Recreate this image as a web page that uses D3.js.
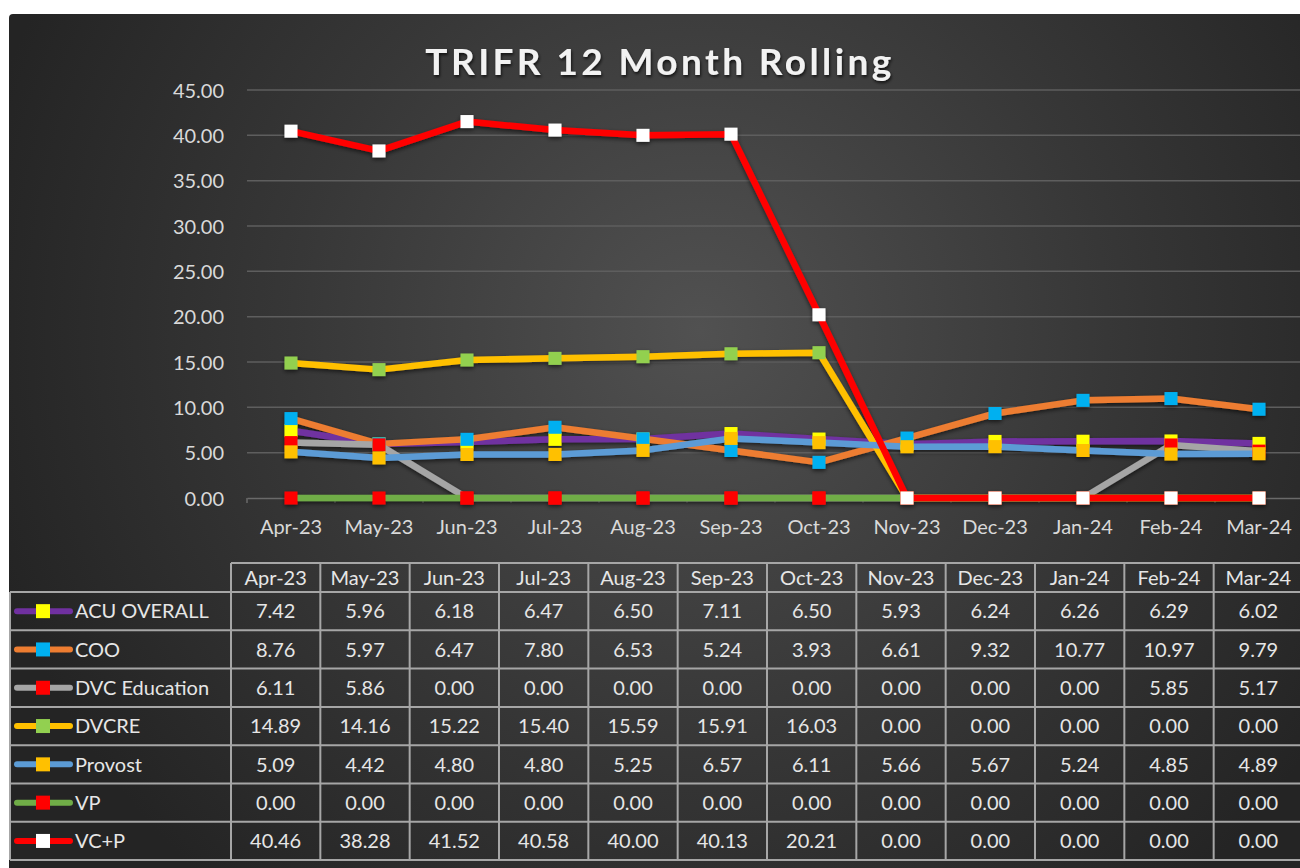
<!DOCTYPE html>
<html>
<head>
<meta charset="utf-8">
<script src="https://cdn.jsdelivr.net/npm/d3@7"></script>
<style>
  body { margin: 0; background: #fff; }
  svg { display: block; font-family: Lato, "Noto Sans", sans-serif; }
</style>
</head>
<body>
<div id="chart"></div>
<script>
// chart data
var months = ["Apr-23","May-23","Jun-23","Jul-23","Aug-23","Sep-23","Oct-23","Nov-23","Dec-23","Jan-24","Feb-24","Mar-24"];
var seriesNames = ["ACU OVERALL","COO","DVC Education","DVCRE","Provost","VP","VC+P"];
var acuOverall   = [7.42, 5.96, 6.18, 6.47, 6.50, 7.11, 6.50, 5.93, 6.24, 6.26, 6.29, 6.02];
var coo          = [8.76, 5.97, 6.47, 7.80, 6.53, 5.24, 3.93, 6.61, 9.32, 10.77, 10.97, 9.79];
var dvcEducation = [6.11, 5.86, 0.00, 0.00, 0.00, 0.00, 0.00, 0.00, 0.00, 0.00, 5.85, 5.17];
var dvcre        = [14.89, 14.16, 15.22, 15.40, 15.59, 15.91, 16.03, 0.00, 0.00, 0.00, 0.00, 0.00];
var provost      = [5.09, 4.42, 4.80, 4.80, 5.25, 6.57, 6.11, 5.66, 5.67, 5.24, 4.85, 4.89];
var vp           = [0.00, 0.00, 0.00, 0.00, 0.00, 0.00, 0.00, 0.00, 0.00, 0.00, 0.00, 0.00];
var vcp          = [40.46, 38.28, 41.52, 40.58, 40.00, 40.13, 20.21, 0.00, 0.00, 0.00, 0.00, 0.00];
var yTicks = [0, 5, 10, 15, 20, 25, 30, 35, 40, 45];

var lineColors   = ["#7030a0","#ed7d31","#a5a5a5","#ffc000","#5b9bd5","#70ad47","#ff0000"];
var markerColors = ["#ffff00","#00b0f0","#ff0000","#92d050","#ffc000","#ff0000","#ffffff"];

var series = [acuOverall, coo, dvcEducation, dvcre, provost, vp, vcp].map(function(vals, i) {
  return { name: seriesNames[i], values: vals, line: lineColors[i], marker: markerColors[i] };
});

var width = 1300, height = 868;

var svg = d3.select("#chart").append("svg")
    .attr("width", width)
    .attr("height", height);

var defs = svg.append("defs");
var bg = defs.append("radialGradient")
    .attr("id", "bg")
    .attr("gradientUnits", "userSpaceOnUse")
    .attr("cx", 700).attr("cy", 330).attr("r", 740);
bg.append("stop").attr("offset", "0%").attr("stop-color", "#515151");
bg.append("stop").attr("offset", "55%").attr("stop-color", "#373737");
bg.append("stop").attr("offset", "100%").attr("stop-color", "#242424");

var shadow = defs.append("filter").attr("id", "shadow")
    .attr("x", "-20%").attr("y", "-20%").attr("width", "140%").attr("height", "160%");
shadow.append("feDropShadow")
    .attr("dx", 0).attr("dy", 2).attr("stdDeviation", 2)
    .attr("flood-color", "#000").attr("flood-opacity", 0.6);

var tshadow = defs.append("filter").attr("id", "tshadow");
tshadow.append("feDropShadow")
    .attr("dx", 1).attr("dy", 2).attr("stdDeviation", 1.5)
    .attr("flood-color", "#000").attr("flood-opacity", 0.7);

// card
svg.append("rect")
    .attr("x", 9).attr("y", 14)
    .attr("width", width).attr("height", height)
    .attr("rx", 4)
    .attr("fill", "url(#bg)");

// title
svg.append("text")
    .attr("x", 660).attr("y", 75)
    .attr("text-anchor", "middle")
    .attr("fill", "#f2f2f2")
    .attr("font-size", 37)
    .attr("font-weight", "bold")
    .attr("letter-spacing", 3.4)
    .attr("filter", "url(#tshadow)")
    .text("TRIFR 12 Month Rolling");

var x = d3.scaleBand().domain(months).range([247, 1303]);
var y = d3.scaleLinear().domain([0, 45]).range([498, 90]);
var cx = function(m) { return x(m) + x.bandwidth() / 2; };

// gridlines
svg.append("g").selectAll("line")
  .data(yTicks.slice(1))
  .enter().append("line")
    .attr("x1", 247).attr("x2", width)
    .attr("y1", function(d) { return y(d); })
    .attr("y2", function(d) { return y(d); })
    .attr("stroke", "#5e5e5e")
    .attr("stroke-width", 1.5);

// y axis labels
var yAxis = d3.axisLeft(y).tickValues(yTicks).tickFormat(d3.format(".2f")).tickSize(0).tickPadding(0);
var yg = svg.append("g").attr("transform", "translate(224,0)").call(yAxis);
yg.select(".domain").remove();
yg.selectAll("text").attr("fill", "#d9d9d9").attr("font-size", 20)
    .attr("font-family", "Lato, 'Noto Sans', sans-serif").attr("dy", "0.35em");

// x axis
var xAxis = d3.axisBottom(x).tickSize(0).tickPadding(0);
var xg = svg.append("g").attr("transform", "translate(0," + y(0) + ")").call(xAxis);
xg.select(".domain").attr("stroke", "#6a6a6a").attr("stroke-width", 1.5);
xg.selectAll("text").attr("fill", "#d9d9d9").attr("font-size", 20)
    .attr("font-family", "Lato, 'Noto Sans', sans-serif").attr("y", 22);
xg.append("g").selectAll("line")
  .data(months.concat([null]))
  .enter().append("line")
    .attr("x1", function(d, i) { return 247 + i * x.bandwidth(); })
    .attr("x2", function(d, i) { return 247 + i * x.bandwidth(); })
    .attr("y1", 0).attr("y2", 5)
    .attr("stroke", "#6a6a6a").attr("stroke-width", 1.5);

// lines
var line = d3.line()
    .x(function(d, i) { return cx(months[i]); })
    .y(function(d) { return y(d); });

var plot = svg.append("g").attr("filter", "url(#shadow)");

plot.selectAll("path.series")
  .data(series)
  .enter().append("path")
    .attr("class", "series")
    .attr("d", function(d) { return line(d.values); })
    .attr("fill", "none")
    .attr("stroke", function(d) { return d.line; })
    .attr("stroke-width", 6.5)
    .attr("stroke-linejoin", "round");

// markers
var ms = 13;
series.forEach(function(s) {
  plot.append("g").selectAll("rect")
    .data(s.values)
    .enter().append("rect")
      .attr("x", function(d, i) { return cx(months[i]) - ms / 2; })
      .attr("y", function(d) { return y(d) - ms / 2; })
      .attr("width", ms).attr("height", ms)
      .attr("fill", s.marker);
});

// data table
var tx = d3.scaleBand().domain(months).range([231, 1303]);
var headerTop = 563, headerH = 29, rowH = 38.3;
var rowTop = headerTop + headerH;
var ty = d3.scaleBand().domain(seriesNames).range([rowTop, rowTop + rowH * seriesNames.length]);
var border = "#a6a6a6";
var table = svg.append("g");

// header
table.selectAll("text.head")
  .data(months)
  .enter().append("text")
    .attr("class", "head")
    .attr("x", function(d) { return tx(d) + tx.bandwidth() / 2; })
    .attr("y", headerTop + headerH / 2)
    .attr("dy", "0.36em")
    .attr("text-anchor", "middle")
    .attr("fill", "#e6e6e6")
    .attr("font-size", 20)
    .text(function(d) { return d; });

// horizontal borders
table.append("line")
    .attr("x1", 231).attr("x2", width)
    .attr("y1", headerTop).attr("y2", headerTop)
    .attr("stroke", border).attr("stroke-width", 2);
table.selectAll("line.h")
  .data(d3.range(seriesNames.length + 1))
  .enter().append("line")
    .attr("class", "h")
    .attr("x1", 10).attr("x2", width)
    .attr("y1", function(i) { return rowTop + i * rowH; })
    .attr("y2", function(i) { return rowTop + i * rowH; })
    .attr("stroke", border).attr("stroke-width", 2);

// vertical borders
table.append("line")
    .attr("x1", 10).attr("x2", 10)
    .attr("y1", rowTop).attr("y2", rowTop + rowH * seriesNames.length)
    .attr("stroke", border).attr("stroke-width", 2);
table.selectAll("line.v")
  .data(months)
  .enter().append("line")
    .attr("class", "v")
    .attr("x1", function(d) { return tx(d); })
    .attr("x2", function(d) { return tx(d); })
    .attr("y1", headerTop).attr("y2", rowTop + rowH * seriesNames.length)
    .attr("stroke", border).attr("stroke-width", 2);

// rows
var rows = table.selectAll("g.row")
  .data(series)
  .enter().append("g")
    .attr("class", "row")
    .attr("transform", function(d) { return "translate(0," + (ty(d.name) + rowH / 2) + ")"; });

rows.append("line")
    .attr("x1", 17).attr("x2", 70)
    .attr("y1", 0).attr("y2", 0)
    .attr("stroke", function(d) { return d.line; })
    .attr("stroke-width", 6)
    .attr("stroke-linecap", "round");
rows.append("rect")
    .attr("x", 36).attr("y", -7)
    .attr("width", 14).attr("height", 14)
    .attr("fill", function(d) { return d.marker; });
rows.append("text")
    .attr("x", 75).attr("dy", "0.36em")
    .attr("fill", "#e6e6e6")
    .attr("font-size", 20)
    .text(function(d) { return d.name; });

rows.selectAll("text.val")
  .data(function(d) { return d.values; })
  .enter().append("text")
    .attr("class", "val")
    .attr("x", function(d, i) { return tx(months[i]) + tx.bandwidth() / 2; })
    .attr("dy", "0.36em")
    .attr("text-anchor", "middle")
    .attr("fill", "#e6e6e6")
    .attr("font-size", 20)
    .text(function(d) { return d3.format(".2f")(d); });
</script>
</body>
</html>
